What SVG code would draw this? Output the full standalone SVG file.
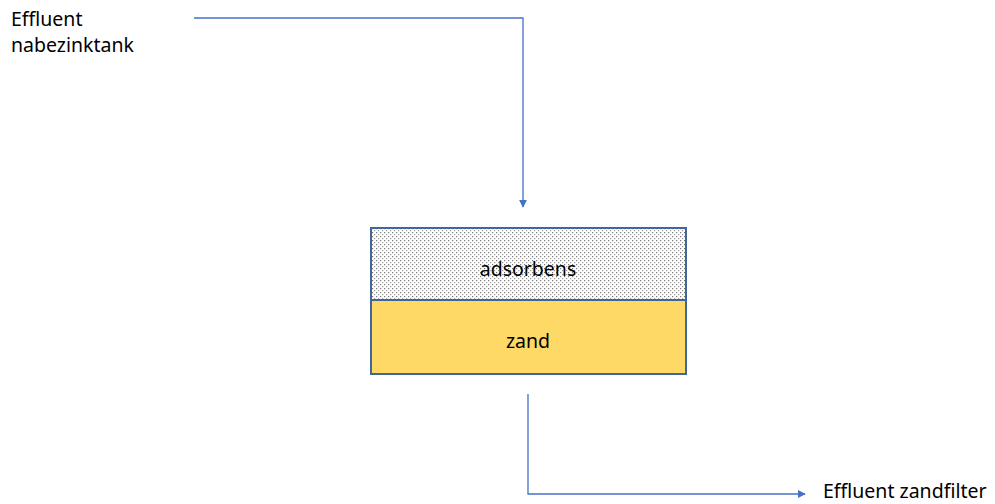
<svg xmlns="http://www.w3.org/2000/svg" width="995" height="504" viewBox="0 0 995 504">
<style>
text{font-family:"Noto Sans","Liberation Sans",sans-serif;font-size:19.5px;fill:#000}
.conn{fill:none;stroke:#4472C4;stroke-width:1.3}
.box{stroke:#41669A;stroke-width:2}
</style>
<defs>
<marker id="arr" viewBox="0 0 10 10" refX="9" refY="5" markerWidth="6" markerHeight="6" orient="auto" markerUnits="strokeWidth">
<path d="M0,0 L10,5 L0,10 z" fill="#4472C4"/>
</marker>
<pattern id="dots" width="4" height="4" patternUnits="userSpaceOnUse">
<rect width="4" height="4" fill="#fff"/>
<rect x="0" y="0" width="1.2" height="1.2" fill="#777"/>
<rect x="2" y="2" width="1.2" height="1.2" fill="#999"/>
</pattern>
</defs>
<rect width="995" height="504" fill="#fff"/>
<g id="connectors">
<path class="conn" d="M194,18 H523 V207" marker-end="url(#arr)"/>
<path class="conn" d="M528,394 V494 H805" marker-end="url(#arr)"/>
</g>
<g id="adsorbens">
<rect class="box" x="371" y="228" width="315" height="72" fill="url(#dots)"/>
<text x="528" y="276" text-anchor="middle">adsorbens</text>
</g>
<g id="zand">
<rect class="box" x="371" y="300" width="315" height="74" fill="#FFD966"/>
<text x="528" y="348" text-anchor="middle">zand</text>
</g>
<g id="label-in">
<text x="11" y="26">Effluent</text>
<text x="11" y="52">nabezinktank</text>
</g>
<g id="label-out">
<text x="823" y="498">Effluent zandfilter</text>
</g>
</svg>
